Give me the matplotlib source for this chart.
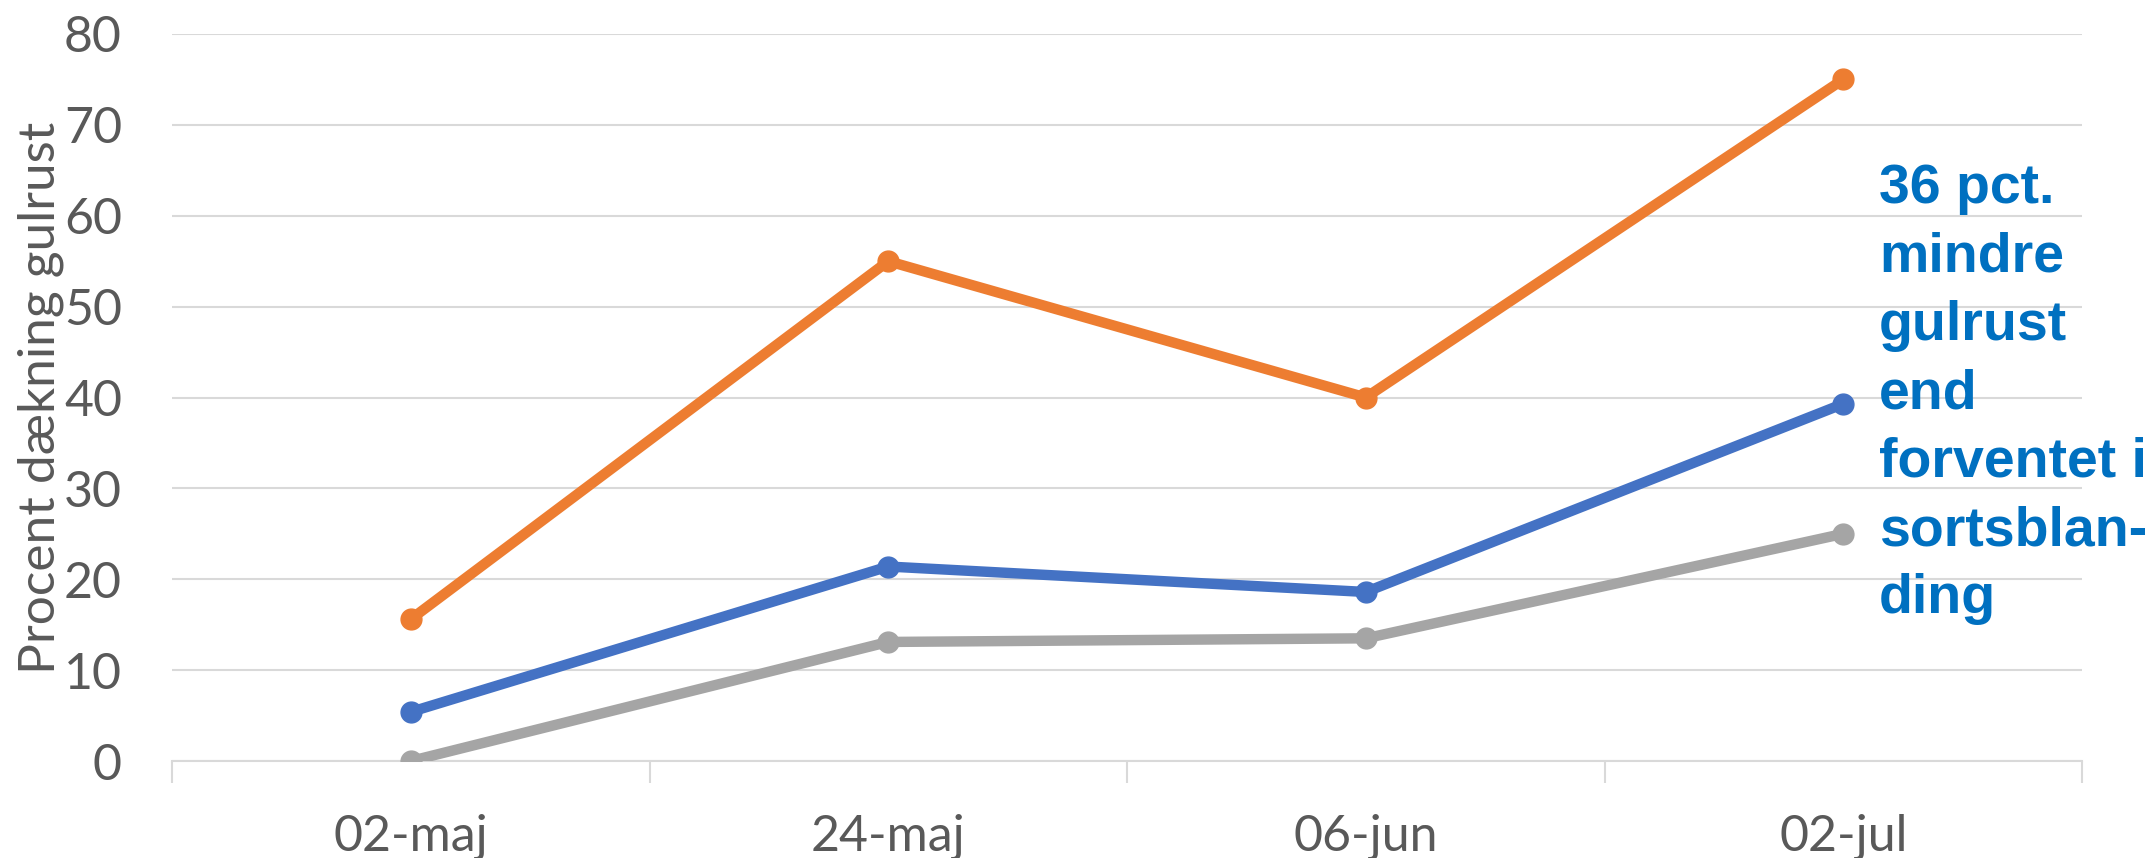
import matplotlib.pyplot as plt
import numpy as np

dates = ['02-maj', '24-maj', '06-jun', '02-jul']
orange = [15.6, 55.0, 40.0, 75.0]
blue = [5.4, 21.4, 18.6, 39.3]
gray = [0.0, 13.1, 13.5, 25.0]
yticks = [0, 10, 20, 30, 40, 50, 60, 70, 80]
note = '36 pct.\nmindre\ngulrust\nend\nforventet i\nsortsblan-\nding'

plt.rcParams['font.family'] = ['Lato', 'DejaVu Sans']
txt = '#595959'
grid = '#D9D9D9'

fig = plt.figure(figsize=(21.54, 8.58), dpi=100)
ax = fig.add_axes([172 / 2154, 1 - 761 / 858, (2082 - 172) / 2154, (761 - 34) / 858])

x = np.arange(len(dates))
for vals, col in [(gray, '#A5A5A5'), (blue, '#4472C4'), (orange, '#ED7D31')]:
    ax.plot(x, vals, color=col, lw=7.5, marker='o', ms=15, solid_capstyle='round', zorder=3)

ax.set_xlim(-0.5, len(dates) - 0.5)
ax.set_ylim(0, 80)
ax.set_yticks(yticks)
ax.set_yticklabels([str(v) for v in yticks], fontsize=36, color=txt)
ax.set_xticks(x)
ax.set_xticklabels(dates, fontsize=36, color=txt)
ax.set_xticks(np.arange(-0.5, len(dates)), minor=True)
ax.tick_params(axis='y', length=0, pad=36)
ax.tick_params(axis='x', which='major', length=0, pad=38)
ax.tick_params(axis='x', which='minor', length=16, width=1.5, color=grid)
ax.grid(axis='y', color=grid, lw=1.5)
ax.set_axisbelow(True)
for s in ['top', 'right', 'left']:
    ax.spines[s].set_visible(False)
ax.spines['bottom'].set_color(grid)
ax.spines['bottom'].set_linewidth(1.5)

ax.set_ylabel('Procent dækning gulrust', fontsize=37, color=txt)
ax.yaxis.set_label_coords(-108 / 1910, 0.5)

ax.text(3.075, 65.8, note, fontsize=40, fontweight='bold', color='#0070C0',
        family='Liberation Sans', va='top', ha='left', linespacing=1.41, clip_on=False)

fig.savefig('out.png', dpi=100)
